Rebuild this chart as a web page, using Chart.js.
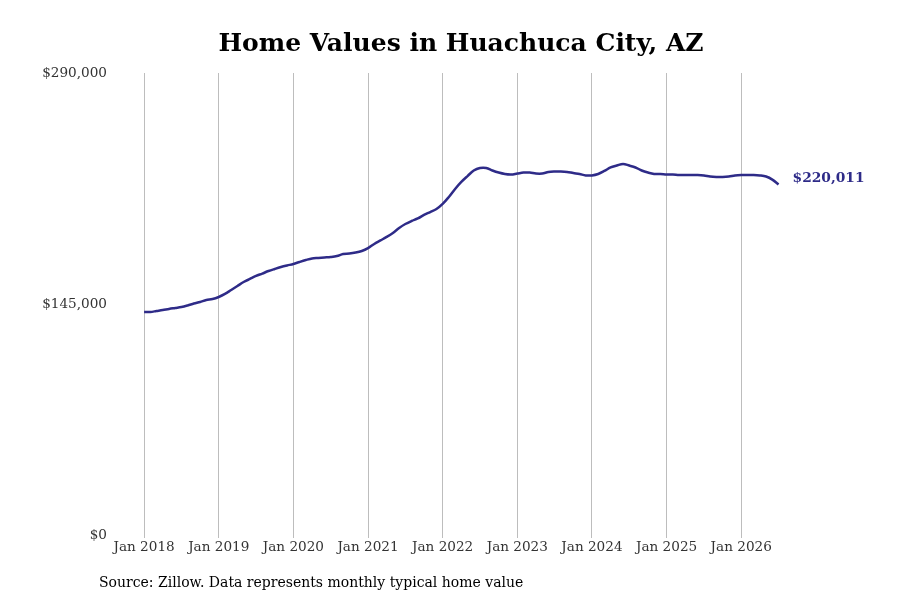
<!DOCTYPE html>
<html>
<head>
<meta charset="utf-8">
<script src="https://cdn.jsdelivr.net/npm/chart.js@4.4.1/dist/chart.umd.min.js"></script>
<style>
  html, body { margin: 0; padding: 0; background: #ffffff; }
  #wrap { position: relative; width: 900px; height: 600px; }
  canvas { position: absolute; left: 0; top: 0; }
  #title { position: absolute; left: 0; width: 922px; top: 26px; text-align: center;
           font-family: 'DejaVu Serif', serif; font-weight: bold; font-size: 25px; color: #000; line-height: 34px; }
  #source { position: absolute; left: 99px; top: 573px; font-family: 'DejaVu Serif', serif;
            font-size: 14px; color: #000; line-height: 18px; }
</style>
</head>
<body>
<div id="wrap">
  <canvas id="c" width="900" height="600"></canvas>
  <div id="title">Home Values in Huachuca City, AZ</div>
  <div id="source">Source: Zillow. Data represents monthly typical home value</div>
</div>
<script>
// Monthly typical home value, Jan 2018 .. Jul 2026
const startYear = 2018;
const homeValues = [
  140000, 140000, 140600, 141200, 141900, 142500, 143100, 144100, 145300, 146300, 147500, 148100,
  149400, 151300, 153800, 156300, 158800, 160700, 162600, 164100, 165700, 167000, 168200, 169200,
  170100, 171400, 172600, 173600, 173900, 174200, 174500, 175100, 176400, 176700, 177300, 178300,
  180100, 182700, 184900, 187100, 189600, 192700, 195200, 197100, 198700, 200900, 202700, 204600,
  207800, 212200, 217200, 221600, 225300, 228800, 230400, 230400, 228800, 227500, 226600, 226300,
  226900, 227500, 227500, 226900, 226900, 227900, 228200, 228200, 227900, 227200, 226600, 225700,
  225700, 226600, 228500, 230700, 231900, 232900, 231900, 230700, 228800, 227500, 226600, 226600,
  226300, 226300, 226000, 226000, 226000, 226000, 225700, 225000, 224700, 224700, 225000, 225700,
  226000, 226000, 226000, 225700, 225000, 223100, 220011
];
const tickMonths = [0, 12, 24, 36, 48, 60, 72, 84, 96];
const tickLabels = ['Jan 2018', 'Jan 2019', 'Jan 2020', 'Jan 2021', 'Jan 2022', 'Jan 2023', 'Jan 2024', 'Jan 2025', 'Jan 2026'];
const yTicks = [0, 145000, 290000];

const lineColor = '#2e2b88';
const fontFam = "'DejaVu Serif', serif";

const points = homeValues.map((v, i) => ({ x: i, y: v }));

const endLabel = {
  id: 'endLabel',
  afterDatasetsDraw(chart) {
    const ctx = chart.ctx;
    const meta = chart.getDatasetMeta(0);
    const last = meta.data[meta.data.length - 1];
    const val = homeValues[homeValues.length - 1];
    ctx.save();
    ctx.font = "bold 13.8px " + fontFam;
    ctx.fillStyle = lineColor;
    ctx.textAlign = 'left';
    ctx.textBaseline = 'middle';
    ctx.fillText('$' + val.toLocaleString('en-US'), last.x + 14, last.y - 6);
    ctx.restore();
  }
};

new Chart(document.getElementById('c'), {
  type: 'line',
  data: {
    datasets: [{
      data: points,
      borderColor: lineColor,
      borderWidth: 2.5,
      pointRadius: 0,
      tension: 0.35,
      fill: false
    }]
  },
  options: {
    responsive: false,
    animation: false,
    devicePixelRatio: 1,
    layout: { padding: { top: 73, right: 40.6, bottom: 35, left: 0 } },
    plugins: { legend: { display: false }, title: { display: false }, tooltip: { enabled: false } },
    scales: {
      x: {
        type: 'linear',
        min: -5,
        max: 115,
        afterBuildTicks(scale) { scale.ticks = tickMonths.map(v => ({ value: v })); },
        afterFit(scale) { scale.height = 30; },
        border: { display: false },
        grid: { display: true, color: '#bdbdbd', lineWidth: 1, drawTicks: true, tickLength: 3 },
        ticks: {
          autoSkip: false,
          maxRotation: 0,
          padding: 1,
          color: '#333333',
          font: { family: fontFam, size: 13.6 },
          callback(value) { const i = tickMonths.indexOf(value); return i >= 0 ? tickLabels[i] : ''; }
        }
      },
      y: {
        min: 0,
        max: 290000,
        afterBuildTicks(scale) { scale.ticks = yTicks.map(v => ({ value: v })); },
        afterFit(scale) { scale.width = 113; },
        border: { display: false },
        grid: { display: false, drawTicks: false },
        ticks: {
          padding: 6,
          color: '#333333',
          font: { family: fontFam, size: 13.6 },
          callback(value) { return '$' + Number(value).toLocaleString('en-US'); }
        }
      }
    }
  },
  plugins: [endLabel]
});
</script>
</body>
</html>
